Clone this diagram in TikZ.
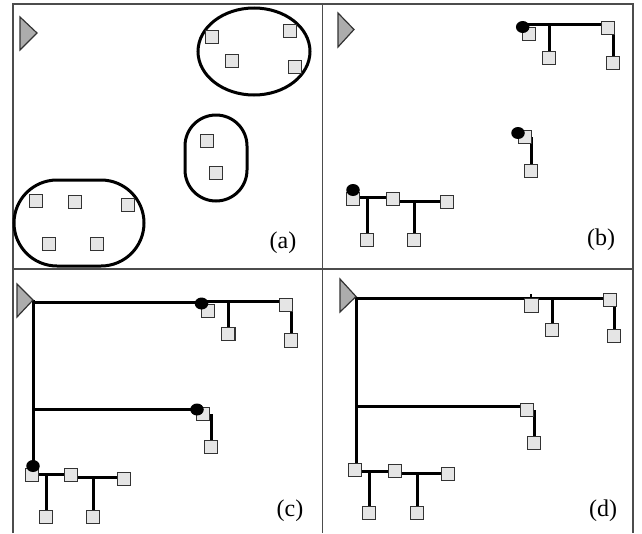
\documentclass[tikz,border=0pt]{standalone}
\usepackage{fontspec}
\setmainfont{Liberation Serif}
\usetikzlibrary{shapes.geometric}
\pgfdeclarelayer{bg}
\pgfsetlayers{bg,main}
\begin{document}
\begin{tikzpicture}[x=1pt,y=-1pt,
 sq/.style={draw=black!80,fill=gray!20,line width=1.4pt,minimum size=13.5pt,inner sep=0pt,outer sep=0pt},
 dotn/.style={ellipse,fill=black,minimum width=13.5pt,minimum height=12pt,inner sep=0pt},
 link/.style={line width=3pt},
 tick/.style={line width=2pt},
 clus/.style={line width=3pt},
 frm/.style={draw=black!70,line width=1.5pt},
 src/.style={draw=black!80,fill=gray!65,line width=1.2pt,line join=miter},
 lbl/.style={font=\fontsize{24}{28}\selectfont,inner sep=0pt}]
\useasboundingbox (0,0) rectangle (642,533);

% frame
\draw[frm] (13,533) -- (13,4) -- (633,4) -- (633,533);
\draw[frm] (322.7,4) -- (322.7,533);
\draw[frm] (13,269) -- (633,269);

% ---------- panel (a)
\draw[clus] (254,51.5) ellipse [x radius=56, y radius=43.5];
\draw[clus,rounded corners=31pt] (185,115) rectangle (247,201);
\draw[clus,rounded corners=43pt] (14,180) rectangle (144,266);
\draw[src] (20,17) -- (37,33) -- (20,50) -- cycle;
\node[sq] (a1) at (212,37) {};
\node[sq] (a2) at (290,31) {};
\node[sq] (a3) at (232,61) {};
\node[sq] (a4) at (295,67) {};
\node[sq] (a5) at (207,141) {};
\node[sq] (a6) at (216,173) {};
\node[sq] (a7) at (36,201) {};
\node[sq] (a8) at (75,202) {};
\node[sq] (a9) at (128,205) {};
\node[sq] (a10) at (49,244) {};
\node[sq] (a11) at (97,244) {};
\node[lbl] (la) at (283,243) {(a)};

% ---------- panel (b)
\node[sq] (b1) at (529,34) {};
\node[sq] (b2) at (608,28) {};
\node[sq] (b3) at (549,58) {};
\node[sq] (b4) at (613,63) {};
\node[sq] (b5) at (525,137) {};
\node[sq] (b6) at (531,171) {};
\node[sq] (b7) at (353,199) {};
\node[sq] (b8) at (393,199) {};
\node[sq] (b9) at (447,202) {};
\node[sq] (b10) at (367,240) {};
\node[sq] (b11) at (414,240) {};
\node[dotn] (db1) at (522.7,27) {};
\node[dotn] (db2) at (518,133) {};
\node[dotn] (db3) at (353,190) {};
\begin{pgfonlayer}{bg}
\draw[link] (db1.center |- 0,24) -- (b2.west |- 0,24);
\draw[link] (b3.north |- 0,24) -- (b3.north);
\draw[link] (b4.north |- b2.south) -- (b4.north);
\draw[link] (b5.center -| b6.north) -- (b6.north);
\draw[link] (b7.center |- 0,197) -- (b8.west |- 0,197);
\draw[link] (b8.east |- 0,201) -- (b9.west |- 0,201);
\draw[link] (b10.north |- 0,197) -- (b10.north);
\draw[link] (b11.north |- 0,201) -- (b11.north);
\end{pgfonlayer}
\draw[src] (338,13) -- (354,29.5) -- (338,47) -- cycle;
\node[lbl] (lb) at (601,240) {(b)};

% ---------- panel (c)
\coordinate (tc) at (33,300);
\node[sq] (c1) at (208,311) {};
\node[sq] (c2) at (286,305) {};
\node[sq] (c3) at (228.3,334) {};
\node[sq] (c4) at (291,340.5) {};
\node[sq] (c5) at (203,414) {};
\node[sq] (c6) at (211,447) {};
\node[sq] (c7) at (32,475) {};
\node[sq] (c8) at (71,475) {};
\node[sq] (c9) at (124,479) {};
\node[sq] (c10) at (46,517) {};
\node[sq] (c11) at (93,517) {};
\node[dotn] (dc1) at (201.5,303.5) {};
\node[dotn] (dc2) at (197,409.5) {};
\node[dotn] (dc3) at (33,466) {};
\begin{pgfonlayer}{bg}
\draw[link] (tc) -- (tc |- dc3.center);
\draw[link] (tc |- 0,302.5) -- (dc1.center |- 0,302.5);
\draw[link] (dc1.center |- 0,301) -- (c2.west |- 0,301);
\draw[link] (c3.north |- 0,301) -- (c3.north);
\draw[link] (c4.north |- c2.south) -- (c4.north);
\draw[link] (tc |- dc2.center) -- (dc2.center);
\draw[link] (c5.center -| c6.north) -- (c6.north);
\draw[link] (c7.center |- 0,474) -- (c8.west |- 0,474);
\draw[link] (c8.east |- 0,477) -- (c9.west |- 0,477);
\draw[link] (c10.north |- 0,474) -- (c10.north);
\draw[link] (c11.north |- 0,477) -- (c11.north);
\end{pgfonlayer}
\draw[src] (17,284) -- (33,300) -- (17,317) -- cycle;
\node[lbl] (lc) at (290,511) {(c)};

% ---------- panel (d)
\coordinate (td) at (356,296.5);
\node[sq] (d1) at (531.5,305.5) {};
\node[sq] (d2) at (610,300) {};
\node[sq] (d3) at (552,330) {};
\node[sq] (d4) at (614,336) {};
\node[sq] (d5) at (527,410) {};
\node[sq] (d6) at (534,443) {};
\node[sq] (d7) at (355,470) {};
\node[sq] (d8) at (395,471) {};
\node[sq] (d9) at (448,474) {};
\node[sq] (d10) at (369,513) {};
\node[sq] (d11) at (417,513) {};
\begin{pgfonlayer}{bg}
\draw[link] (td) -- (td |- d7.north);
\draw[link] (td |- 0,298) -- (d2.west |- 0,298);
\draw[tick] (d1.north -| 530.7,0) -- (530.7,294);
\draw[link] (d3.north |- 0,298) -- (d3.north);
\draw[link] (d4.north |- d2.south) -- (d4.north);
\draw[link] (td |- 0,406) -- (d5.west |- 0,406);
\draw[link] (d5.center -| d6.north) -- (d6.north);
\draw[link] (d7.center |- 0,471) -- (d8.west |- 0,471);
\draw[link] (d8.east |- 0,473) -- (d9.west |- 0,473);
\draw[link] (d10.north |- 0,471) -- (d10.north);
\draw[link] (d11.north |- 0,473) -- (d11.north);
\end{pgfonlayer}
\draw[src] (340,279) -- (356,296.5) -- (340,312) -- cycle;
\node[lbl] (ld) at (603,511) {(d)};
\end{tikzpicture}
\end{document}
